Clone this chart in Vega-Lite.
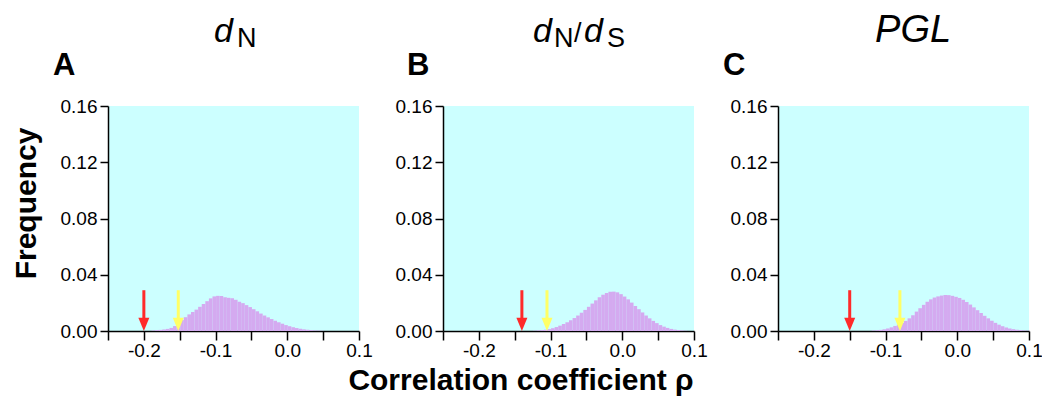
{
  "$schema": "https://vega.github.io/schema/vega-lite/v6.json",
  "padding": {"left": 11, "top": 12, "right": 2, "bottom": 2},
  "background": "white",
  "bounds": "flush",
  "spacing": 84,
  "config": {
    "font": "Liberation Sans",
    "view": {"fill": "#ccffff", "stroke": null},
    "axis": {"grid": false, "domainColor": "black", "tickColor": "black", "labelColor": "black", "domainWidth": 1.5, "tickWidth": 1.5, "labelFont": "Liberation Sans", "labelFontSize": 19, "titleColor": "black", "titleFont": "Liberation Sans"}
  },
  "datasets": {
    "hist": [
      {"panel":"A","rho":-0.19,"freq":0.0003},{"panel":"A","rho":-0.185,"freq":0.0006},{"panel":"A","rho":-0.18,"freq":0.0008},{"panel":"A","rho":-0.175,"freq":0.0011},{"panel":"A","rho":-0.17,"freq":0.0015},{"panel":"A","rho":-0.165,"freq":0.0022},{"panel":"A","rho":-0.16,"freq":0.0035},{"panel":"A","rho":-0.155,"freq":0.0055},{"panel":"A","rho":-0.15,"freq":0.0078},{"panel":"A","rho":-0.145,"freq":0.0098},{"panel":"A","rho":-0.14,"freq":0.0118},{"panel":"A","rho":-0.135,"freq":0.0135},{"panel":"A","rho":-0.13,"freq":0.0152},{"panel":"A","rho":-0.125,"freq":0.0172},{"panel":"A","rho":-0.12,"freq":0.0192},{"panel":"A","rho":-0.115,"freq":0.0212},{"panel":"A","rho":-0.11,"freq":0.0232},{"panel":"A","rho":-0.105,"freq":0.0246},{"panel":"A","rho":-0.1,"freq":0.025},{"panel":"A","rho":-0.095,"freq":0.0249},{"panel":"A","rho":-0.09,"freq":0.024},{"panel":"A","rho":-0.085,"freq":0.0236},{"panel":"A","rho":-0.08,"freq":0.0233},{"panel":"A","rho":-0.075,"freq":0.0222},{"panel":"A","rho":-0.07,"freq":0.0208},{"panel":"A","rho":-0.065,"freq":0.0198},{"panel":"A","rho":-0.06,"freq":0.0184},{"panel":"A","rho":-0.055,"freq":0.017},{"panel":"A","rho":-0.05,"freq":0.0155},{"panel":"A","rho":-0.045,"freq":0.014},{"panel":"A","rho":-0.04,"freq":0.0124},{"panel":"A","rho":-0.035,"freq":0.011},{"panel":"A","rho":-0.03,"freq":0.0097},{"panel":"A","rho":-0.025,"freq":0.0085},{"panel":"A","rho":-0.02,"freq":0.0073},{"panel":"A","rho":-0.015,"freq":0.0062},{"panel":"A","rho":-0.01,"freq":0.0052},{"panel":"A","rho":-0.005,"freq":0.0042},{"panel":"A","rho":0.0,"freq":0.0034},{"panel":"A","rho":0.005,"freq":0.0027},{"panel":"A","rho":0.01,"freq":0.0021},{"panel":"A","rho":0.015,"freq":0.0016},{"panel":"A","rho":0.02,"freq":0.0012},{"panel":"A","rho":0.025,"freq":0.0009},{"panel":"A","rho":0.03,"freq":0.0006},{"panel":"A","rho":0.035,"freq":0.0004},{"panel":"A","rho":0.04,"freq":0.0003},{"panel":"A","rho":0.045,"freq":0.0002},
      {"panel":"B","rho":-0.125,"freq":0.0002},{"panel":"B","rho":-0.12,"freq":0.0004},{"panel":"B","rho":-0.115,"freq":0.0006},{"panel":"B","rho":-0.11,"freq":0.0009},{"panel":"B","rho":-0.105,"freq":0.0013},{"panel":"B","rho":-0.1,"freq":0.002},{"panel":"B","rho":-0.095,"freq":0.0028},{"panel":"B","rho":-0.09,"freq":0.0038},{"panel":"B","rho":-0.085,"freq":0.005},{"panel":"B","rho":-0.08,"freq":0.0062},{"panel":"B","rho":-0.075,"freq":0.0076},{"panel":"B","rho":-0.07,"freq":0.0092},{"panel":"B","rho":-0.065,"freq":0.011},{"panel":"B","rho":-0.06,"freq":0.013},{"panel":"B","rho":-0.055,"freq":0.015},{"panel":"B","rho":-0.05,"freq":0.0172},{"panel":"B","rho":-0.045,"freq":0.0195},{"panel":"B","rho":-0.04,"freq":0.0218},{"panel":"B","rho":-0.035,"freq":0.024},{"panel":"B","rho":-0.03,"freq":0.0258},{"panel":"B","rho":-0.025,"freq":0.027},{"panel":"B","rho":-0.02,"freq":0.0279},{"panel":"B","rho":-0.015,"freq":0.028},{"panel":"B","rho":-0.01,"freq":0.0275},{"panel":"B","rho":-0.005,"freq":0.0262},{"panel":"B","rho":0.0,"freq":0.0245},{"panel":"B","rho":0.005,"freq":0.0225},{"panel":"B","rho":0.01,"freq":0.0202},{"panel":"B","rho":0.015,"freq":0.0178},{"panel":"B","rho":0.02,"freq":0.0155},{"panel":"B","rho":0.025,"freq":0.0132},{"panel":"B","rho":0.03,"freq":0.011},{"panel":"B","rho":0.035,"freq":0.009},{"panel":"B","rho":0.04,"freq":0.0072},{"panel":"B","rho":0.045,"freq":0.0056},{"panel":"B","rho":0.05,"freq":0.0042},{"panel":"B","rho":0.055,"freq":0.0031},{"panel":"B","rho":0.06,"freq":0.0022},{"panel":"B","rho":0.065,"freq":0.0015},{"panel":"B","rho":0.07,"freq":0.001},{"panel":"B","rho":0.075,"freq":0.0007},{"panel":"B","rho":0.08,"freq":0.0004},{"panel":"B","rho":0.085,"freq":0.0002},
      {"panel":"C","rho":-0.12,"freq":0.0003},{"panel":"C","rho":-0.115,"freq":0.0005},{"panel":"C","rho":-0.11,"freq":0.0008},{"panel":"C","rho":-0.105,"freq":0.0012},{"panel":"C","rho":-0.1,"freq":0.0018},{"panel":"C","rho":-0.095,"freq":0.0026},{"panel":"C","rho":-0.09,"freq":0.0036},{"panel":"C","rho":-0.085,"freq":0.0046},{"panel":"C","rho":-0.08,"freq":0.0058},{"panel":"C","rho":-0.075,"freq":0.0072},{"panel":"C","rho":-0.07,"freq":0.009},{"panel":"C","rho":-0.065,"freq":0.0112},{"panel":"C","rho":-0.06,"freq":0.0138},{"panel":"C","rho":-0.055,"freq":0.0162},{"panel":"C","rho":-0.05,"freq":0.0186},{"panel":"C","rho":-0.045,"freq":0.0208},{"panel":"C","rho":-0.04,"freq":0.0225},{"panel":"C","rho":-0.035,"freq":0.0238},{"panel":"C","rho":-0.03,"freq":0.0246},{"panel":"C","rho":-0.025,"freq":0.0252},{"panel":"C","rho":-0.02,"freq":0.0256},{"panel":"C","rho":-0.015,"freq":0.0255},{"panel":"C","rho":-0.01,"freq":0.025},{"panel":"C","rho":-0.005,"freq":0.0243},{"panel":"C","rho":0.0,"freq":0.0235},{"panel":"C","rho":0.005,"freq":0.0222},{"panel":"C","rho":0.01,"freq":0.0206},{"panel":"C","rho":0.015,"freq":0.0188},{"panel":"C","rho":0.02,"freq":0.0168},{"panel":"C","rho":0.025,"freq":0.0148},{"panel":"C","rho":0.03,"freq":0.0128},{"panel":"C","rho":0.035,"freq":0.0108},{"panel":"C","rho":0.04,"freq":0.009},{"panel":"C","rho":0.045,"freq":0.0073},{"panel":"C","rho":0.05,"freq":0.0058},{"panel":"C","rho":0.055,"freq":0.0045},{"panel":"C","rho":0.06,"freq":0.0034},{"panel":"C","rho":0.065,"freq":0.0025},{"panel":"C","rho":0.07,"freq":0.0018},{"panel":"C","rho":0.075,"freq":0.0013},{"panel":"C","rho":0.08,"freq":0.0009},{"panel":"C","rho":0.085,"freq":0.0006},{"panel":"C","rho":0.09,"freq":0.0004},{"panel":"C","rho":0.095,"freq":0.0002}
    ],
    "arrows": [
      {"panel":"A","arrow":"red","rho":-0.2},{"panel":"A","arrow":"yellow","rho":-0.152},
      {"panel":"B","arrow":"red","rho":-0.14},{"panel":"B","arrow":"yellow","rho":-0.105},
      {"panel":"C","arrow":"red","rho":-0.15},{"panel":"C","arrow":"yellow","rho":-0.08}
    ],
    "labels": [
      {"panel":"A","role":"letter","text":"A","rho":-0.3267,"freq":0.182},
      {"panel":"B","role":"letter","text":"B","rho":-0.3002,"freq":0.182},
      {"panel":"C","role":"letter","text":"C","rho":-0.3267,"freq":0.182},
      {"panel":"A","role":"big","text":"d","rho":-0.1022,"freq":0.2055},
      {"panel":"A","role":"sub","text":"N","rho":-0.0701,"freq":0.2019},
      {"panel":"B","role":"big","text":"d","rho":-0.1245,"freq":0.2055},
      {"panel":"B","role":"sub","text":"N","rho":-0.0952,"freq":0.2019},
      {"panel":"B","role":"slash","text":"/","rho":-0.0673,"freq":0.2055},
      {"panel":"B","role":"big","text":"d","rho":-0.0534,"freq":0.2055},
      {"panel":"B","role":"sub","text":"S","rho":-0.0213,"freq":0.2019},
      {"panel":"C","role":"wide","text":"PGL","rho":-0.1147,"freq":0.2055},
      {"panel":"B","role":"xtitle","text":"Correlation coefficient ρ","rho":-0.1412,"freq":-0.0419}
    ]
  },
  "hconcat": [
    {
      "width": 251, "height": 225,
      "layer": [
        {
          "data": {"name": "hist"},
          "transform": [{"filter": "datum.panel == 'A'"}],
          "mark": {"type": "bar", "color": "#d4aaf0", "binSpacing": 0},
          "encoding": {
            "x": {"field": "rho", "type": "quantitative", "bin": {"binned": true, "step": 0.005},
              "scale": {"domain": [-0.25, 0.1], "nice": false, "zero": false},
              "axis": {"title": null, "values": [-0.25,-0.2,-0.15,-0.1,-0.05,0,0.05,0.1], "labelExpr": "abs(round(datum.value*100)) % 10 == 0 ? replace(format(datum.value, '.1f'), '−', '-') : ''", "tickSize": 9, "labelPadding": 1, "labelFlush": false, "labelOverlap": false}},
            "y": {"field": "freq", "type": "quantitative",
              "scale": {"domain": [0, 0.16], "nice": false},
              "axis": {"title": "Frequency", "titleFontSize": 30, "titleFontWeight": "bold", "titlePadding": 19, "titleY": 97, "values": [0,0.02,0.04,0.06,0.08,0.1,0.12,0.14,0.16], "labelExpr": "round(datum.value*100) % 4 == 0 ? format(datum.value, '.2f') : ''", "tickSize": {"condition": {"test": "round(datum.value*100) % 4 == 0", "value": 8}, "value": 5}, "labelPadding": 3, "labelOverlap": false}}
          }
        },
        {
          "data": {"name": "arrows"},
          "transform": [{"filter": "datum.panel == 'A'"}],
          "mark": {"type": "rule", "strokeWidth": 3},
          "encoding": {
            "x": {"field": "rho", "type": "quantitative"},
            "y": {"datum": 0.029}, "y2": {"datum": 0.008},
            "color": {"field": "arrow", "type": "nominal", "scale": {"domain": ["red","yellow"], "range": ["#ff2a2a","#ffff66"]}, "legend": null}
          }
        },
        {
          "data": {"name": "arrows"},
          "transform": [{"filter": "datum.panel == 'A'"}],
          "mark": {"type": "point", "shape": "M-1,-2.4L1,-2.4L0,0Z", "size": 121, "filled": true, "opacity": 1},
          "encoding": {
            "x": {"field": "rho", "type": "quantitative"},
            "y": {"datum": 0},
            "color": {"field": "arrow", "type": "nominal", "scale": {"domain": ["red","yellow"], "range": ["#ff2a2a","#ffff66"]}, "legend": null}
          }
        },
        {
          "data": {"name": "labels"},
          "transform": [{"filter": "datum.panel == 'A' && datum.role == 'letter'"}],
          "mark": {"type": "text", "align": "left", "baseline": "alphabetic", "fontSize": 31, "fontWeight": "bold", "color": "black"},
          "encoding": {"x": {"field": "rho", "type": "quantitative"}, "y": {"field": "freq", "type": "quantitative"}, "text": {"field": "text"}}
        },
        {
          "data": {"name": "labels"},
          "transform": [{"filter": "datum.panel == 'A' && datum.role == 'big'"}],
          "mark": {"type": "text", "align": "left", "baseline": "alphabetic", "fontSize": 34, "fontStyle": "italic", "color": "black"},
          "encoding": {"x": {"field": "rho", "type": "quantitative"}, "y": {"field": "freq", "type": "quantitative"}, "text": {"field": "text"}}
        },
        {
          "data": {"name": "labels"},
          "transform": [{"filter": "datum.panel == 'A' && datum.role == 'sub'"}],
          "mark": {"type": "text", "align": "left", "baseline": "alphabetic", "fontSize": 27, "color": "black"},
          "encoding": {"x": {"field": "rho", "type": "quantitative"}, "y": {"field": "freq", "type": "quantitative"}, "text": {"field": "text"}}
        }
      ]
    },
    {
      "width": 251, "height": 225,
      "layer": [
        {
          "data": {"name": "hist"},
          "transform": [{"filter": "datum.panel == 'B'"}],
          "mark": {"type": "bar", "color": "#d4aaf0", "binSpacing": 0},
          "encoding": {
            "x": {"field": "rho", "type": "quantitative", "bin": {"binned": true, "step": 0.005},
              "scale": {"domain": [-0.25, 0.1], "nice": false, "zero": false},
              "axis": {"title": null, "values": [-0.25,-0.2,-0.15,-0.1,-0.05,0,0.05,0.1], "labelExpr": "abs(round(datum.value*100)) % 10 == 0 ? replace(format(datum.value, '.1f'), '−', '-') : ''", "tickSize": 9, "labelPadding": 1, "labelFlush": false, "labelOverlap": false}},
            "y": {"field": "freq", "type": "quantitative",
              "scale": {"domain": [0, 0.16], "nice": false},
              "axis": {"title": null, "values": [0,0.02,0.04,0.06,0.08,0.1,0.12,0.14,0.16], "labelExpr": "round(datum.value*100) % 4 == 0 ? format(datum.value, '.2f') : ''", "tickSize": {"condition": {"test": "round(datum.value*100) % 4 == 0", "value": 8}, "value": 5}, "labelPadding": 3, "labelOverlap": false}}
          }
        },
        {
          "data": {"name": "arrows"},
          "transform": [{"filter": "datum.panel == 'B'"}],
          "mark": {"type": "rule", "strokeWidth": 3},
          "encoding": {
            "x": {"field": "rho", "type": "quantitative"},
            "y": {"datum": 0.029}, "y2": {"datum": 0.008},
            "color": {"field": "arrow", "type": "nominal", "scale": {"domain": ["red","yellow"], "range": ["#ff2a2a","#ffff66"]}, "legend": null}
          }
        },
        {
          "data": {"name": "arrows"},
          "transform": [{"filter": "datum.panel == 'B'"}],
          "mark": {"type": "point", "shape": "M-1,-2.4L1,-2.4L0,0Z", "size": 121, "filled": true, "opacity": 1},
          "encoding": {
            "x": {"field": "rho", "type": "quantitative"},
            "y": {"datum": 0},
            "color": {"field": "arrow", "type": "nominal", "scale": {"domain": ["red","yellow"], "range": ["#ff2a2a","#ffff66"]}, "legend": null}
          }
        },
        {
          "data": {"name": "labels"},
          "transform": [{"filter": "datum.panel == 'B' && datum.role == 'letter'"}],
          "mark": {"type": "text", "align": "left", "baseline": "alphabetic", "fontSize": 31, "fontWeight": "bold", "color": "black"},
          "encoding": {"x": {"field": "rho", "type": "quantitative"}, "y": {"field": "freq", "type": "quantitative"}, "text": {"field": "text"}}
        },
        {
          "data": {"name": "labels"},
          "transform": [{"filter": "datum.panel == 'B' && datum.role == 'big'"}],
          "mark": {"type": "text", "align": "left", "baseline": "alphabetic", "fontSize": 34, "fontStyle": "italic", "color": "black"},
          "encoding": {"x": {"field": "rho", "type": "quantitative"}, "y": {"field": "freq", "type": "quantitative"}, "text": {"field": "text"}}
        },
        {
          "data": {"name": "labels"},
          "transform": [{"filter": "datum.panel == 'B' && (datum.role == 'sub' || datum.role == 'slash')"}],
          "mark": {"type": "text", "align": "left", "baseline": "alphabetic", "fontSize": 27, "color": "black"},
          "encoding": {"x": {"field": "rho", "type": "quantitative"}, "y": {"field": "freq", "type": "quantitative"}, "text": {"field": "text"}}
        },
        {
          "data": {"name": "labels"},
          "transform": [{"filter": "datum.panel == 'B' && datum.role == 'xtitle'"}],
          "mark": {"type": "text", "align": "center", "baseline": "alphabetic", "fontSize": 30, "fontWeight": "bold", "color": "black"},
          "encoding": {"x": {"field": "rho", "type": "quantitative"}, "y": {"field": "freq", "type": "quantitative"}, "text": {"field": "text"}}
        }
      ]
    },
    {
      "width": 251, "height": 225,
      "layer": [
        {
          "data": {"name": "hist"},
          "transform": [{"filter": "datum.panel == 'C'"}],
          "mark": {"type": "bar", "color": "#d4aaf0", "binSpacing": 0},
          "encoding": {
            "x": {"field": "rho", "type": "quantitative", "bin": {"binned": true, "step": 0.005},
              "scale": {"domain": [-0.25, 0.1], "nice": false, "zero": false},
              "axis": {"title": null, "values": [-0.25,-0.2,-0.15,-0.1,-0.05,0,0.05,0.1], "labelExpr": "abs(round(datum.value*100)) % 10 == 0 ? replace(format(datum.value, '.1f'), '−', '-') : ''", "tickSize": 9, "labelPadding": 1, "labelFlush": false, "labelOverlap": false}},
            "y": {"field": "freq", "type": "quantitative",
              "scale": {"domain": [0, 0.16], "nice": false},
              "axis": {"title": null, "values": [0,0.02,0.04,0.06,0.08,0.1,0.12,0.14,0.16], "labelExpr": "round(datum.value*100) % 4 == 0 ? format(datum.value, '.2f') : ''", "tickSize": {"condition": {"test": "round(datum.value*100) % 4 == 0", "value": 8}, "value": 5}, "labelPadding": 3, "labelOverlap": false}}
          }
        },
        {
          "data": {"name": "arrows"},
          "transform": [{"filter": "datum.panel == 'C'"}],
          "mark": {"type": "rule", "strokeWidth": 3},
          "encoding": {
            "x": {"field": "rho", "type": "quantitative"},
            "y": {"datum": 0.029}, "y2": {"datum": 0.008},
            "color": {"field": "arrow", "type": "nominal", "scale": {"domain": ["red","yellow"], "range": ["#ff2a2a","#ffff66"]}, "legend": null}
          }
        },
        {
          "data": {"name": "arrows"},
          "transform": [{"filter": "datum.panel == 'C'"}],
          "mark": {"type": "point", "shape": "M-1,-2.4L1,-2.4L0,0Z", "size": 121, "filled": true, "opacity": 1},
          "encoding": {
            "x": {"field": "rho", "type": "quantitative"},
            "y": {"datum": 0},
            "color": {"field": "arrow", "type": "nominal", "scale": {"domain": ["red","yellow"], "range": ["#ff2a2a","#ffff66"]}, "legend": null}
          }
        },
        {
          "data": {"name": "labels"},
          "transform": [{"filter": "datum.panel == 'C' && datum.role == 'letter'"}],
          "mark": {"type": "text", "align": "left", "baseline": "alphabetic", "fontSize": 31, "fontWeight": "bold", "color": "black"},
          "encoding": {"x": {"field": "rho", "type": "quantitative"}, "y": {"field": "freq", "type": "quantitative"}, "text": {"field": "text"}}
        },
        {
          "data": {"name": "labels"},
          "transform": [{"filter": "datum.panel == 'C' && datum.role == 'wide'"}],
          "mark": {"type": "text", "align": "left", "baseline": "alphabetic", "fontSize": 38, "fontStyle": "italic", "color": "black"},
          "encoding": {"x": {"field": "rho", "type": "quantitative"}, "y": {"field": "freq", "type": "quantitative"}, "text": {"field": "text"}}
        }
      ]
    }
  ]
}
